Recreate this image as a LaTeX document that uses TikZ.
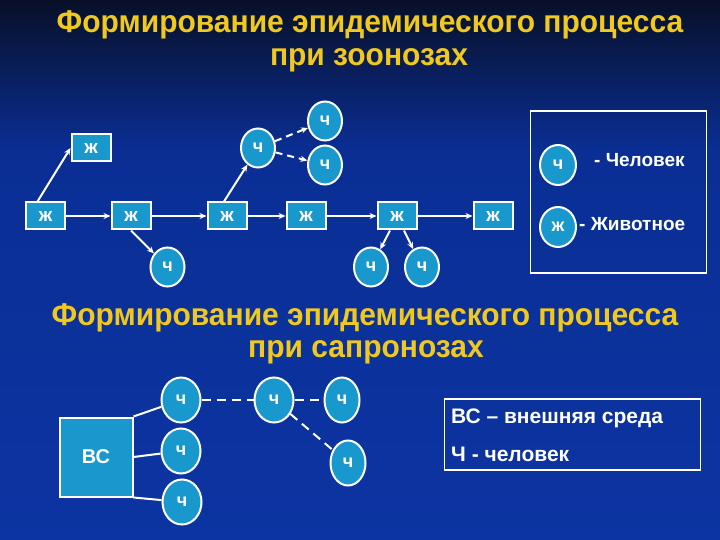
\documentclass[tikz,border=0pt]{standalone}
\usepackage{fontspec}
\setmainfont{Liberation Sans}
\usetikzlibrary{shapes.geometric,arrows.meta}
\definecolor{bgtop}{RGB}{8,16,40}
\definecolor{bgmid}{RGB}{10,46,148}
\definecolor{bgbot}{RGB}{12,52,162}
\definecolor{nodefill}{RGB}{24,152,204}
\definecolor{titley}{RGB}{240,200,30}
\tikzset{
  animal/.style={draw=white, line width=2pt, fill=nodefill, minimum width=39pt, minimum height=27pt, inner sep=0pt, text=white, font=\bfseries\fontsize{19}{19}\selectfont},
  human/.style={ellipse, draw=white, line width=2pt, fill=nodefill, minimum width=34pt, minimum height=39pt, inner sep=0pt, text=white, font=\bfseries\fontsize{18}{18}\selectfont},
  humanb/.style={human, minimum width=39pt, minimum height=45pt},
  conn/.style={draw=white, line width=2pt, -{Stealth[length=7pt,width=6pt]}},
  dconn/.style={conn, dash pattern=on 7pt off 5pt},
  link/.style={draw=white, line width=2pt},
  dlink/.style={link, dash pattern=on 9pt off 6pt},
  legendbox/.style={draw=white, line width=1.5pt},
  titletext/.style={text=titley, font=\bfseries\fontsize{30}{30}\selectfont, inner sep=0pt},
  legtext/.style={text=white, font=\bfseries\fontsize{19}{19}\selectfont, inner sep=0pt, anchor=west},
  legtextb/.style={text=white, font=\bfseries\fontsize{21}{21}\selectfont, inner sep=0pt, anchor=west},
}
\newcommand{\sqx}[1]{\scalebox{1.0}[1.05]{#1}}
\begin{document}
\begin{tikzpicture}[x=1pt,y=-1pt]
\useasboundingbox (0,0) rectangle (720,540);
\shade[top color=bgtop, bottom color=bgmid] (0,0) rectangle (720,150);
\shade[top color=bgmid, bottom color=bgbot] (0,150) rectangle (720,540);

% Title 1
\node[titletext] (t1) at (370,25) {\sqx{Формирование эпидемического процесса}};
\node[titletext] (t2) at (369,60) {\sqx{при зоонозах}};

% Zoonoses diagram
\node[animal] (j0) at (45.5,216) {ж};
\node[animal] (ju) at (91,148) {ж};
\node[animal] (j2) at (131,216) {ж};
\node[animal] (j3) at (227,216) {ж};
\node[animal] (j4) at (306,216) {ж};
\node[animal] (j5) at (397,216) {ж};
\node[animal] (j6) at (493,216) {ж};
\node[human] (ha) at (167.5,267) {ч};
\node[human] (hb) at (258,148) {ч};
\node[human] (hc) at (325,121) {ч};
\node[human] (hd) at (325,165) {ч};
\node[human] (he) at (371,267) {ч};
\node[human] (hf) at (422,267) {ч};

\draw[conn] ([xshift=-8pt]j0.north) -- (ju.west);
\draw[conn] (j0) -- (j2);
\draw[conn] (j2) -- (j3);
\draw[conn] (j3) -- (j4);
\draw[conn] (j4) -- (j5);
\draw[conn] (j5) -- (j6);
\draw[conn] (j2.south) -- (ha);
\draw[conn] ([xshift=-3pt]j3.north) -- (hb);
\draw[dconn] (hb) -- (hc);
\draw[dconn] (hb) -- (hd);
\draw[conn] ([xshift=-7pt]j5.south) -- (he);
\draw[conn] ([xshift=7pt]j5.south) -- (hf);

% Legend 1
\node[legendbox, minimum width=176pt, minimum height=162pt] (lg1) at (618.5,192) {};
\node[human, minimum width=36pt, minimum height=40pt] (lh) at (558,165) {ч};
\node[human, minimum width=36pt, minimum height=40pt] (lj) at (558,227) {ж};
\node[legtext] (lht) at (594,160) {- Человек};
\node[legtext] (ljt) at (579,224) {- Животное};

% Title 2
\node[titletext] (s1) at (365,318) {\sqx{Формирование эпидемического процесса}};
\node[titletext] (s2) at (366,352) {\sqx{при сапронозах}};

% Sapronoses diagram
\node[draw=white, line width=2pt, fill=nodefill, minimum width=73pt, minimum height=79pt, inner sep=0pt, text=white, font=\bfseries\fontsize{20}{20}\selectfont] (vs) at (96,457) {ВС};
\node[humanb] (c1) at (181,400) {ч};
\node[humanb] (c2) at (181,451) {ч};
\node[humanb] (c3) at (182,502) {ч};
\node[humanb] (c4) at (274,400) {ч};
\node[humanb, minimum width=35pt] (c5) at (342,400) {ч};
\node[humanb, minimum width=35pt] (c6) at (348,463) {ч};

\draw[link] (vs.north east) -- (c1);
\draw[link] (vs.east) -- (c2);
\draw[link] (vs.south east) -- (c3);
\draw[dlink] (c1) -- (c4);
\draw[dlink] (c4) -- (c5);
\draw[dlink] (c4) -- (c6);

% Legend 2
\node[legendbox, minimum width=256pt, minimum height=71pt] (lg2) at (572.5,434.5) {};
\node[legtextb] (l2a) at (451,418) {ВС – внешняя среда};
\node[legtextb] (l2b) at (451,454) {Ч - человек};
\end{tikzpicture}
\end{document}
